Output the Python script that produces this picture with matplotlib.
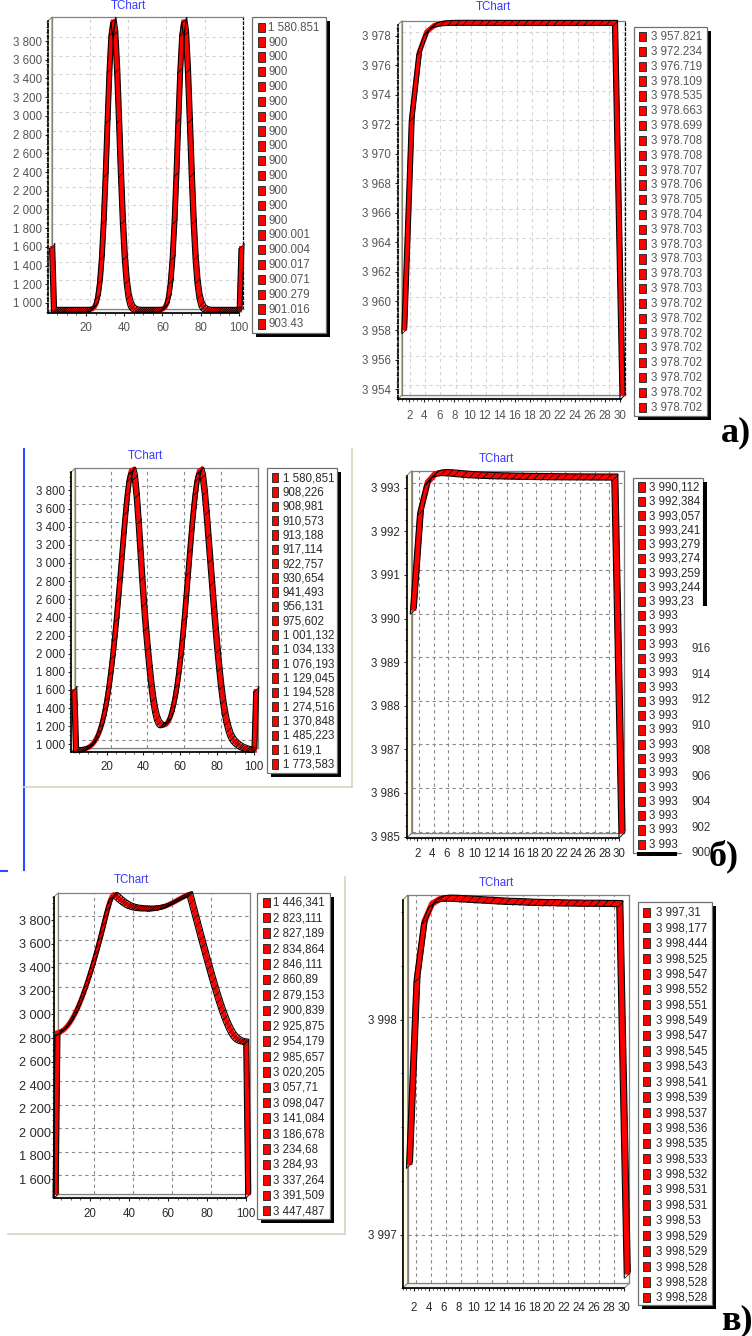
import numpy as np
import matplotlib
matplotlib.use("Agg")
import matplotlib.pyplot as plt
from matplotlib.patches import Rectangle, Polygon
from matplotlib.path import Path
from matplotlib.transforms import offset_copy

plt.rcParams['font.family'] = ['Liberation Sans', 'DejaVu Sans']

W, H = 752, 1336

# ---------------- data ----------------
x100 = list(range(1, 101))
x30 = list(range(1, 31))

# а) left: two narrow peaks
t_a_left = [1580.851, 900, 900, 900, 900, 900, 900, 900, 900, 900, 900, 900, 900, 900,
            900.001, 900.004, 900.017, 900.071, 900.279, 901.016, 903.43,
            910.2, 927.5, 967.5, 1050.6, 1205.9, 1465.5, 1851, 2355, 2926, 3466, 3857, 4000,
            3857, 3466, 2926, 2355, 1851, 1465.5, 1205.9, 1050.6, 967.5, 927.5, 910.2,
            903.43, 901.016, 900.279, 900.071, 900.017, 900.004,
            900.002, 900.001, 900.004, 900.017, 900.071, 900.279, 901.016, 903.43,
            910.2, 927.5, 967.5, 1050.6, 1205.9, 1465.5, 1851, 2355, 2926, 3466, 3857, 4000,
            3857, 3466, 2926, 2355, 1851, 1465.5, 1205.9, 1050.6, 967.5, 927.5, 910.2,
            903.43, 901.016, 900.279, 900.071, 900.017, 900.004, 900.001,
            900, 900, 900, 900, 900, 900, 900, 900, 900, 900, 900,
            1580.851]
leg_a_left = ['1 580.851'] + ['900'] * 13 + ['900.001', '900.004', '900.017', '900.071',
                                             '900.279', '901.016', '903.43']

# а) right
t_a_right = [3957.821, 3972.234, 3976.719, 3978.109, 3978.535, 3978.663, 3978.699, 3978.708,
             3978.708, 3978.707, 3978.706, 3978.705, 3978.704, 3978.703, 3978.703, 3978.703,
             3978.703, 3978.703, 3978.702, 3978.702, 3978.702, 3978.702, 3978.702, 3978.702,
             3978.702, 3978.702, 3978.702, 3978.702, 3978.702, 3953.4]
leg_a_right = ['3 957.821', '3 972.234', '3 976.719', '3 978.109', '3 978.535', '3 978.663',
               '3 978.699', '3 978.708', '3 978.708', '3 978.707', '3 978.706', '3 978.705',
               '3 978.704'] + ['3 978.703'] * 5 + ['3 978.702'] * 8

# б) left: two wide peaks
t_b_left = [1580.851, 908.226, 908.981, 910.573, 913.188, 917.114, 922.757, 930.654, 941.493,
            956.131, 975.602, 1001.132, 1034.133, 1076.193, 1129.045, 1194.528, 1274.516,
            1370.848, 1485.223, 1619.1, 1773.583,
            1948, 2140, 2350, 2575, 2810, 3055, 3300, 3530, 3740, 3900, 3990, 4000,
            3920, 3720, 3440, 3130, 2810, 2520, 2260, 2030, 1820, 1630, 1470, 1350, 1265,
            1215, 1190, 1182, 1185, 1195, 1220, 1260, 1320, 1400, 1500, 1625, 1775, 1950,
            2150, 2370, 2610, 2860, 3110, 3350, 3570, 3760, 3900, 3985, 4000,
            3930, 3760, 3530, 3270, 3010, 2750, 2490, 2240, 2010, 1800, 1610, 1450, 1320,
            1220, 1140, 1080, 1040, 1010, 990, 972, 958, 946, 937, 929, 923, 918, 914, 911,
            909, 1580.851]
leg_b_left = ['1 580,851', '908,226', '908,981', '910,573', '913,188', '917,114', '922,757',
              '930,654', '941,493', '956,131', '975,602', '1 001,132', '1 034,133', '1 076,193',
              '1 129,045', '1 194,528', '1 274,516', '1 370,848', '1 485,223', '1 619,1',
              '1 773,583']

# б) right
t_b_right = [3990.112, 3992.384, 3993.057, 3993.241, 3993.279, 3993.274, 3993.259, 3993.244,
             3993.23, 3993.222, 3993.215, 3993.209, 3993.204, 3993.2, 3993.196, 3993.193,
             3993.19, 3993.188, 3993.186, 3993.184, 3993.182, 3993.181, 3993.18, 3993.179,
             3993.178, 3993.177, 3993.176, 3993.176, 3993.175, 3985.0]
leg_b_right = ['3 990,112', '3 992,384', '3 993,057', '3 993,241', '3 993,279', '3 993,274',
               '3 993,259', '3 993,244', '3 993,23'] + ['3 993'] * 17
hidden_ticks = ['916', '914', '912', '910', '908', '906', '904', '902', '900']

# в) left: plateau with dip
t_c_left = [1446.341, 2823.111, 2827.189, 2834.864, 2846.111, 2860.89, 2879.153, 2900.839,
            2925.875, 2954.179, 2985.657, 3020.205, 3057.71, 3098.047, 3141.084, 3186.678,
            3234.68, 3284.93, 3337.264, 3391.509, 3447.487,
            3505, 3565, 3627, 3691, 3757, 3825, 3885, 3940, 3980, 3995, 3990, 3975, 3960,
            3946, 3933, 3922, 3912, 3904, 3897, 3892, 3888, 3885, 3883, 3881, 3880, 3879,
            3879, 3878, 3878, 3879, 3880, 3882, 3885, 3888, 3892, 3897, 3903, 3910, 3918,
            3926, 3935, 3944, 3953, 3962, 3971, 3980, 3988, 3995, 4000,
            3940, 3878, 3815, 3752, 3690, 3628, 3566, 3505, 3444, 3385, 3326, 3268, 3212,
            3157, 3104, 3053, 3005, 2960, 2918, 2880, 2846, 2817, 2794, 2777, 2765, 2757,
            2752, 2749, 2747, 1446.341]
leg_c_left = ['1 446,341', '2 823,111', '2 827,189', '2 834,864', '2 846,111', '2 860,89',
              '2 879,153', '2 900,839', '2 925,875', '2 954,179', '2 985,657', '3 020,205',
              '3 057,71', '3 098,047', '3 141,084', '3 186,678', '3 234,68', '3 284,93',
              '3 337,264', '3 391,509', '3 447,487']

# в) right
t_c_right = [3997.31, 3998.177, 3998.444, 3998.525, 3998.547, 3998.552, 3998.551, 3998.549,
             3998.547, 3998.545, 3998.543, 3998.541, 3998.539, 3998.537, 3998.536, 3998.535,
             3998.533, 3998.532, 3998.531, 3998.531, 3998.53, 3998.529, 3998.529, 3998.528,
             3998.528, 3998.528, 3998.527, 3998.527, 3998.526, 3996.8]
leg_c_right = ['3 997,31', '3 998,177', '3 998,444', '3 998,525', '3 998,547', '3 998,552',
               '3 998,551', '3 998,549', '3 998,547', '3 998,545', '3 998,543', '3 998,541',
               '3 998,539', '3 998,537', '3 998,536', '3 998,535', '3 998,533', '3 998,532',
               '3 998,531', '3 998,531', '3 998,53', '3 998,529', '3 998,529', '3 998,528',
               '3 998,528', '3 998,528']

# ---------------- drawing ----------------
fig = plt.figure(figsize=(W / 100, H / 100), dpi=100)

under = fig.add_axes([0, 0, 1, 1], zorder=-5)
under.set_xlim(0, W); under.set_ylim(H, 0); under.axis('off')


def frect(L, T, R, B):
    return [L / W, 1 - B / H, (R - L) / W, (B - T) / H]


def thousands(v):
    return f"{int(v):,}".replace(",", " ")


def chart(xs, ys, box, d, xlim, ylim, xt, xmn, yt, ymn, top=False,
          ygap=6, xgap=10, fs=8.3, yfs=None):
    L, T, R, B = box
    gc = '#d4d4d4' if top else '#8a8a8a'
    tc = '#555555' if top else '#2a2a2a'

    # back wall with grid
    back = fig.add_axes(frect(L + d, T - d, R + d, B - d))
    back.set_xlim(xlim); back.set_ylim(ylim)
    back.set_xticks(xt); back.set_yticks(yt)
    back.grid(True, color=gc, ls=(0, (3, 3)), lw=0.8)
    back.tick_params(length=0, labelleft=False, labelbottom=False)
    for s in back.spines.values():
        s.set_color('#808080'); s.set_linewidth(0.9)
    if top:
        back.spines['right'].set_color('black')
        back.spines['right'].set_linestyle((0, (2, 2)))

    # side wall and floor
    under.add_patch(Polygon([(L, T), (L + d, T - d), (L + d, B - d), (L, B)],
                            fc='#fffbe2', ec='#707070', lw=0.6))
    under.add_patch(Polygon([(L, B), (L + d, B - d), (R + d, B - d), (R, B)],
                            fc='#f2f2f2', ec='#707070', lw=0.6))

    # front axes with the series
    ax = fig.add_axes(frect(L, T, R, B))
    ax.patch.set_visible(False)
    ax.set_xlim(xlim); ax.set_ylim(ylim)
    ax.spines['top'].set_visible(False); ax.spines['right'].set_visible(False)
    for s in ['left', 'bottom']:
        ax.spines[s].set_color('black'); ax.spines[s].set_linewidth(1.2)
    if top:
        ax.spines['left'].set_linestyle((0, (2, 1.5)))
    ax.set_xticks(xt, labels=[str(v) for v in xt])
    ax.set_xticks(xmn, minor=True)
    ax.set_yticks(yt, labels=[thousands(v) for v in yt])
    ax.set_yticks(ymn, minor=True)
    ax.tick_params(which='major', length=2.2, width=0.8, color='#202020',
                   labelsize=fs, labelcolor=tc)
    ax.tick_params(which='minor', length=1.2, width=0.6, color='#404040')
    ax.tick_params(axis='y', pad=max(ygap - 3, 0.5) * 0.72)
    ax.tick_params(axis='x', pad=max(xgap - 4, 0.5) * 0.72)
    if yfs:
        ax.tick_params(axis='y', labelsize=yfs)

    # 3D ribbon: front edge, red band, back edge, segment hatches
    r = d + 1
    tr = ax.transData
    mid = offset_copy(tr, x=r / 2, y=r / 2, units='dots')
    bk = offset_copy(tr, x=r, y=r, units='dots')
    ax.plot(xs, ys, color='#ff0000', lw=r * 0.72, transform=mid, clip_on=False,
            solid_joinstyle='miter', solid_capstyle='butt')
    ax.plot(xs, ys, color='black', lw=0.8, transform=tr, clip_on=False)
    ax.plot(xs, ys, color='black', lw=0.8, transform=bk, clip_on=False)
    diag = Path([(-1, -1), (1, 1)], [Path.MOVETO, Path.LINETO])
    ax.plot(xs, ys, ls='none', marker=diag, ms=r * 0.72, mec='black', mew=0.5,
            transform=mid, clip_on=False)
    return ax


x_left_major = [20, 40, 60, 80, 100]
x_left_minor = np.arange(5, 101, 5)
x_right_major = list(range(2, 31, 2))
x_right_minor = np.arange(0.5, 30.5, 0.5)

chart(x100, t_a_left, (48, 21, 239, 313), 4, (0.16, 99.9), (893, 4014),
      x_left_major, x_left_minor, list(range(1000, 3801, 200)), np.arange(900, 4001, 50),
      top=True, ygap=6.3, xgap=10)
chart(x30, t_a_right, (398, 24.7, 621, 399), 4, (0.99, 30.13), (3953.35, 3978.75),
      x_right_major, x_right_minor, list(range(3954, 3979, 2)), np.arange(3953.5, 3979, 0.5),
      top=True, ygap=7.3, xgap=12)
chart(x100, t_b_left, (71, 472.3, 253.7, 752), 4, (0.6, 99.8), (915.2, 3994.7),
      x_left_major, x_left_minor, list(range(1000, 3801, 200)), np.arange(950, 4001, 50),
      ygap=6, xgap=10)
chart(x30, t_b_right, (406.7, 475.7, 619, 838.3), 5, (1.0, 29.96), (3984.96, 3993.275),
      x_right_major, x_right_minor, list(range(3985, 3994)), np.arange(3985, 3993.3, 0.25),
      ygap=6.7, xgap=10.4)
chart(x100, t_c_left, (54.3, 896.7, 245.7, 1198.3), 4, (1.64, 100.0), (1438.9, 3997.7),
      x_left_major, x_left_minor, list(range(1600, 3801, 200)), np.arange(1450, 4001, 50),
      ygap=3.6, xgap=11, yfs=9.2)
chart(x30, t_c_right, (402.7, 900, 624.3, 1288.3), 5, (0.95, 29.92), (3996.779, 3998.557),
      x_right_major, x_right_minor, [3997, 3998], np.arange(3996.75, 3998.6, 0.25),
      ygap=6, xgap=14.4)

# ---------------- overlay: legends, titles, panel marks ----------------
ov = fig.add_axes([0, 0, 1, 1], zorder=10)
ov.set_xlim(0, W); ov.set_ylim(H, 0); ov.axis('off')
ov.patch.set_visible(False)


def legend(box, first, step, labels, mk_x, tx_x, top=False, shadow=True):
    x0, y0, x1, y1 = box
    if shadow:
        ov.add_patch(Rectangle((x0 + 4, y0 + 4), x1 - x0, y1 - y0, fc='black', ec='none'))
    ov.add_patch(Rectangle((x0, y0), x1 - x0, y1 - y0, fc='white', ec='#707070', lw=0.9))
    tc = '#555555' if top else '#2a2a2a'
    for i, lab in enumerate(labels):
        y = first + i * step
        ov.add_patch(Rectangle((mk_x, y - 4.7), 6.5, 9.4, fc='#ff0000', ec='#303030', lw=0.7))
        ov.text(tx_x, y + 0.5, lab, ha='left', va='center', fontsize=8.3, color=tc)


legend((251.7, 17.3, 326, 333), 27.3, 14.83, leg_a_left, 258.3, 268.3, top=True)
legend((634, 27.3, 707.3, 416), 36.7, 14.82, leg_a_right, 639.3, 651, top=True)
legend((266.7, 468.3, 337.3, 773.3), 477.7, 14.31, leg_b_left, 271.7, 282.7)
legend((633.3, 478.3, 703.3, 853.3), 487, 14.29, leg_b_right, 638.3, 649, shadow=False)
legend((257.3, 892.7, 330, 1219.3), 902.3, 15.42, leg_c_left, 263.3, 273.3)
legend((638.3, 902.3, 711.7, 1305), 912.3, 15.4, leg_c_right, 643.3, 655.7)

# б) right legend: partial shadow and an overlapping axis of another chart
ov.add_patch(Rectangle((703.3, 481.7), 4, 124, fc='black', ec='none'))
ov.add_patch(Rectangle((636.7, 852), 40, 4, fc='black', ec='none'))
ov.add_patch(Rectangle((682, 606), 70, 262, fc='white', ec='none'))
for i, lab in enumerate(hidden_ticks):
    ov.text(691.7, 649.3 + i * 25.5, lab, ha='left', va='center', fontsize=8.3, color='#333333')

# titles
for (tx, ty) in [(128, 6), (493, 7), (145, 456), (496.7, 459), (131.7, 880), (496.7, 882.7)]:
    ov.text(tx, ty, 'TChart', ha='center', va='center', fontsize=8.3, color='#3a3aff')

# panel borders
ov.plot([23.5, 23.5], [449, 870], color='#2a4bff', lw=1.5)
ov.plot([0, 7], [871, 871], color='#2a4bff', lw=1.5)
ov.plot([24, 352], [786.7, 786.7], color='#d8d4c4', lw=1.2)
ov.plot([351.7, 351.7], [449, 786.7], color='#d8d4c4', lw=1.2)
ov.plot([8, 345], [1234.3, 1234.3], color='#d8d4c4', lw=1.2)
ov.plot([345, 345], [877, 1234.3], color='#d8d4c4', lw=1.2)

# panel letters
for (tx, ty, lab) in [(736, 433, 'а)'), (724, 856, 'б)'), (737, 1321, 'в)')]:
    ov.text(tx, ty, lab, ha='center', va='center', fontsize=26, fontweight='bold',
            family=['Liberation Serif', 'DejaVu Serif'], color='black')

fig.savefig('out.png', dpi=100)
